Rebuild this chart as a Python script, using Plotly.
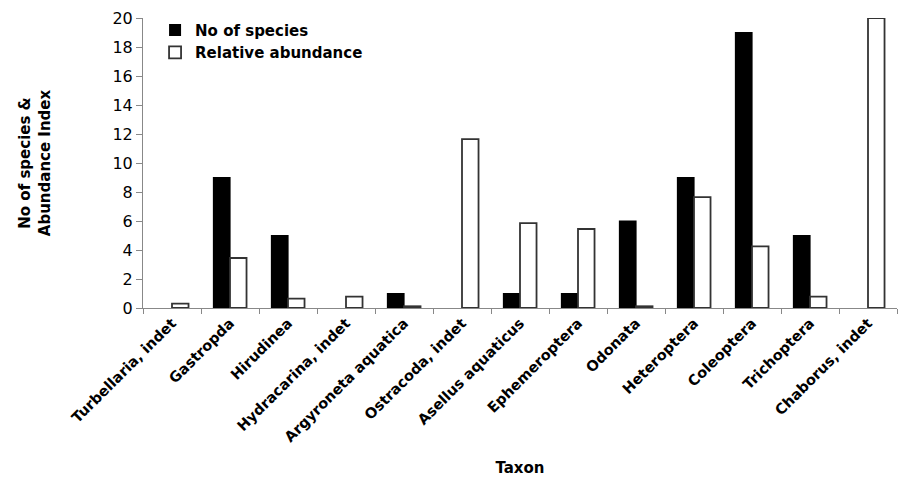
import plotly.graph_objects as go

taxa = ["Turbellaria, indet", "Gastropda", "Hirudinea", "Hydracarina, indet",
        "Argyroneta aquatica", "Ostracoda, indet", "Asellus aquaticus",
        "Ephemeroptera", "Odonata", "Heteroptera", "Coleoptera",
        "Trichoptera", "Chaborus, indet"]
no_species = [0, 9, 5, 0, 1, 0, 1, 1, 6, 9, 19, 5, 0]
rel_abundance = [0.3, 3.45, 0.65, 0.78, 0.12, 11.65, 5.85, 5.45, 0.12, 7.65, 4.25, 0.78, 20.0]
y_ticks = [0, 2, 4, 6, 8, 10, 12, 14, 16, 18, 20]

FONT = "DejaVu Sans"

fig = go.Figure()
fig.add_trace(go.Bar(x=taxa, y=no_species, name="<b>No of species</b>",
                     marker=dict(color="black",
                                 line=dict(color="black",
                                           width=[0 if v == 0 else 1.2 for v in no_species]))))
fig.add_trace(go.Bar(x=taxa, y=rel_abundance, name="<b>Relative abundance</b>",
                     marker=dict(color="white", line=dict(color="#333333", width=1.8))))

fig.update_layout(
    width=905, height=481,
    margin=dict(l=143, r=8, t=18, b=173),
    paper_bgcolor="white", plot_bgcolor="white",
    barmode="group", bargap=0.43, bargroupgap=0.0,
    font=dict(family=FONT, color="black"),
    legend=dict(x=0.016, y=1.015, xanchor="left", yanchor="top",
                bgcolor="rgba(0,0,0,0)", tracegroupgap=0,
                font=dict(size=15, family=FONT),
                itemwidth=30),
    xaxis=dict(
        tickangle=-45, automargin=False,
        tickfont=dict(size=14.5, family=FONT),
        showline=True, linecolor="#888888", linewidth=1,
        ticks="outside", tickson="boundaries", ticklen=5, tickcolor="#888888",
        title=dict(text="<b>Taxon</b>", font=dict(size=15), standoff=18),
        showgrid=False,
    ),
    yaxis=dict(
        range=[0, 20], tickvals=y_ticks, automargin=False,
        tickfont=dict(size=16, family=FONT),
        showline=True, linecolor="#888888", linewidth=1,
        ticks="outside", ticklen=6, tickcolor="#888888",
        showgrid=False, zeroline=False,
        title=dict(text="<b>No of species &amp;<br>Abundance Index</b>",
                   font=dict(size=15), standoff=58),
    ),
)
fig.update_xaxes(ticktext=[f"<b>{t}</b>" for t in taxa], tickvals=taxa)

fig.write_html("out.html", post_script="document.body.style.margin='0';",
               config={"displayModeBar": False})
